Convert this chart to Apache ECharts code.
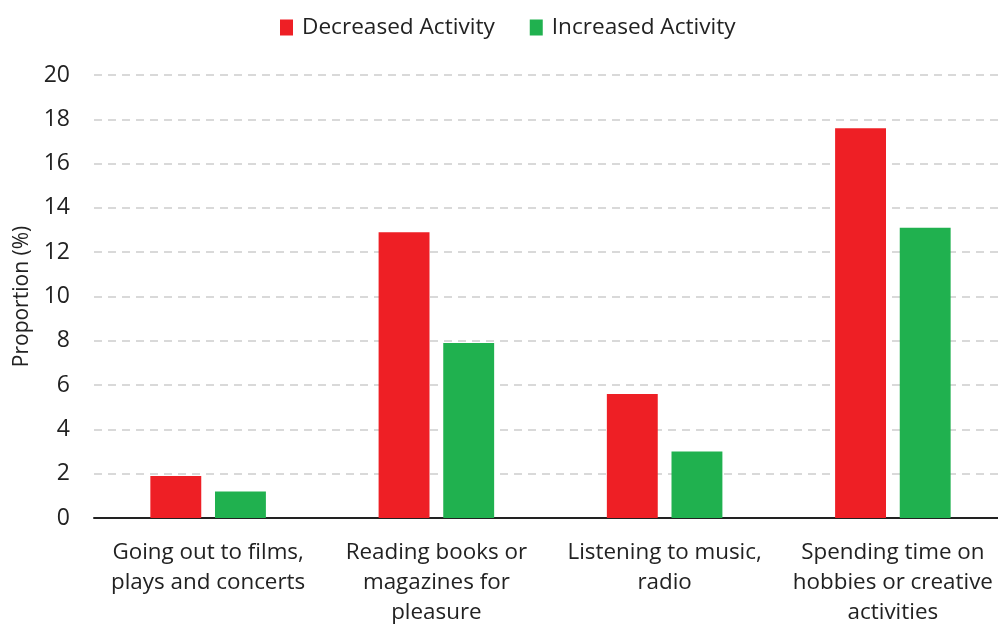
<!DOCTYPE html>
<html>
<head>
<meta charset="utf-8">
<script src="https://cdn.jsdelivr.net/npm/echarts@6/dist/echarts.min.js"></script>
<style>html,body{margin:0;padding:0;background:#fff}#c{width:998px;height:626px}</style>
</head>
<body>
<div id="c"></div>
<script>
const categories = [
  "Going out to films,\nplays and concerts",
  "Reading books or\nmagazines for\npleasure",
  "Listening to music,\nradio",
  "Spending time on\nhobbies or creative\nactivities"
];
const decreased = [1.9, 12.9, 5.6, 17.6];
const increased = [1.2, 7.9, 3.0, 13.1];
const seriesNames = ["Decreased Activity", "Increased Activity"];
const yAxisTitle = "Proportion (%)";

const FONT = "Open Sans";
const chart = echarts.init(document.getElementById('c'), null, {renderer: 'canvas'});
chart.setOption({
  animation: false,
  textStyle: {fontFamily: FONT},
  legend: {
    top: 11, left: 275, icon: 'rect',
    itemWidth: 13, itemHeight: 16, itemGap: 35,
    textStyle: {fontFamily: FONT, fontSize: 22.6, color: '#222', padding: [0, 0, 0, 4]},
    data: seriesNames
  },
  grid: {left: 94, top: 75, width: 913, height: 443, containLabel: false, outerBoundsMode: 'none'},
  xAxis: {
    type: 'category', data: categories,
    axisLine: {lineStyle: {color: '#222', width: 2}},
    axisTick: {show: false},
    axisLabel: {fontFamily: FONT, fontSize: 22.4, color: '#222', lineHeight: 30, margin: 20, interval: 0}
  },
  yAxis: {
    type: 'value', min: 0, max: 20, interval: 2,
    name: yAxisTitle, nameLocation: 'middle', nameGap: 58,
    nameTextStyle: {fontFamily: FONT, fontSize: 21, color: '#222'},
    axisLine: {show: false}, axisTick: {show: false},
    axisLabel: {fontFamily: FONT, fontSize: 23, color: '#222', margin: 24},
    splitLine: {lineStyle: {color: '#d9d9d9', type: [8, 6], width: 2}}
  },
  series: [
    {name: seriesNames[0], type: 'bar', data: decreased, barWidth: '22.3%', barGap: '27%',
     itemStyle: {color: '#ee1f25'}},
    {name: seriesNames[1], type: 'bar', data: increased, barWidth: '22.3%', barGap: '27%',
     itemStyle: {color: '#20b14f'}}
  ]
});
</script>
</body>
</html>
